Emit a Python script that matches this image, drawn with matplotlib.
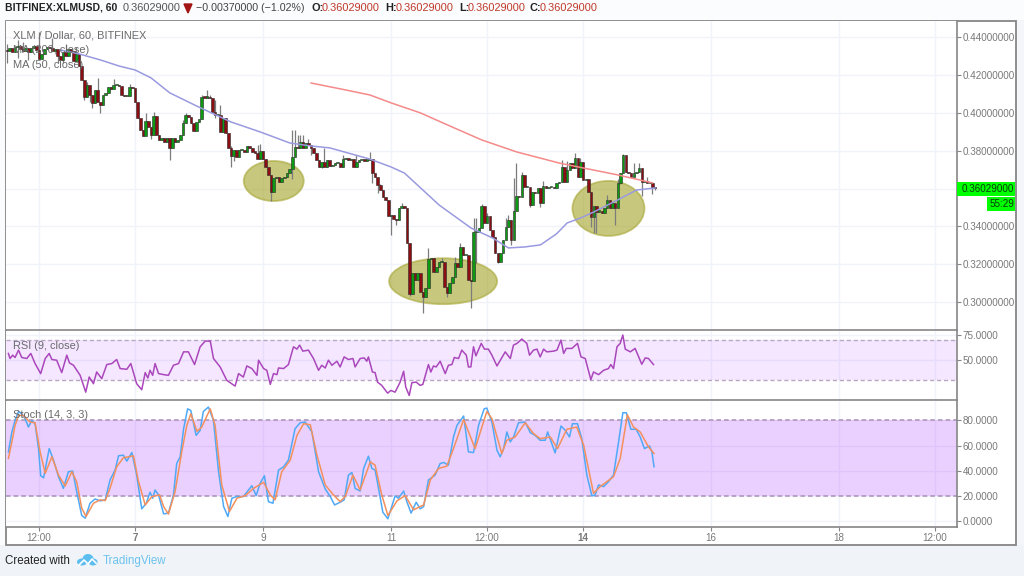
"""XLM / Dollar hourly chart with MA, RSI and Stochastic panels, TradingView look."""
import numpy as np
import matplotlib
matplotlib.use('Agg')
import matplotlib.pyplot as plt
from matplotlib.patches import Ellipse, Rectangle

plt.rcParams['font.family'] = ['Liberation Sans', 'DejaVu Sans']

# hourly closes, first bar is 48 hours before the "7" tick
closes = [
    .4325, .4345, .4320, .4350, .4355, .4340, .4325, .4345, .4320, .4345, .4355, .4335,
    .4285, .4310, .4340, .4350, .4345, .4325, .4340, .4300, .4280, .4320, .4300, .4340,
    .4325, .4275, .4310, .4250, .4174, .4086, .4148, .4095, .4051, .4121, .4060, .4042,
    .4095, .4104, .4135, .4125, .4148, .4148, .4142, .4095, .4090, .4090, .4135, .4130,
    .4060, .3971, .3910, .3878, .3959, .3927, .3883, .3986, .3883, .3857, .3866, .3848,
    .3866, .3813, .3866, .3848, .3857, .3883, .3949, .3989, .3977, .3949, .3904, .3954,
    .3966, .4086, .4081, .4081, .4077, .4007, .3989, .3989, .3901, .3971, .3892, .3813,
    .3772, .3804, .3769, .3804, .3804, .3795, .3825, .3813, .3795, .3790, .3755, .3800,
    .3755, .3716, .3672, .3584, .3654, .3663, .3636, .3654, .3659, .3681, .3702, .3769,
    .3822, .3813, .3848, .3813, .3839, .3830, .3813, .3786, .3751, .3712, .3742, .3712,
    .3751, .3719, .3725, .3733, .3733, .3712, .3755, .3760, .3751, .3755, .3712, .3742,
    .3751, .3751, .3748, .3751, .3755, .3681, .3659, .3619, .3592, .3557, .3539, .3455,
    .3460, .3437, .3434, .3495, .3510, .3495, .3310, .3042, .3152, .3116, .3155, .3055,
    .3025, .3072, .3226, .3231, .3160, .3187, .3213, .3213, .3081, .3046, .3099, .3134,
    .3208, .3183, .3289, .3249, .3249, .3116, .3113, .3372, .3372, .3390, .3510, .3416,
    .3455, .3381, .3346, .3257, .3213, .3257, .3328, .3395, .3434, .3328, .3483, .3561,
    .3557, .3672, .3610, .3610, .3513, .3584, .3575, .3601, .3522, .3614, .3601, .3610,
    .3610, .3601, .3628, .3636, .3716, .3636, .3698, .3733, .3707, .3760, .3663, .3742,
    .3645, .3649, .3584, .3451, .3508, .3478, .3483, .3469, .3495, .3539, .3495, .3522,
    .3495, .3628, .3681, .3777, .3689, .3681, .3663, .3681, .3689, .3707, .3636, .3642,
    .3628, .3631, .3610, .3603,
]
first_open = .4330

# the wicks that stick out, by bar number
upper_wicks = {
    0: .4365, 4: .4385, 6: .4375, 12: .4430, 17: .4395, 22: .4365, 26: .4350, 30: .4165,
    34: .4183, 40: .4178, 46: .4155, 52: .4001, 55: .4005, 57: .3885, 66: .3965, 67: .4001,
    73: .4095, 75: .4121, 76: .4095, 78: .4068, 80: .4042, 84: .3825, 94: .3830, 95: .3835,
    107: .3910, 108: .3910, 109: .3883, 110: .3883, 111: .3883, 113: .3860, 119: .3813,
    126: .3780, 131: .3775, 136: .3795, 139: .3631, 140: .3625, 148: .3522, 158: .3285,
    163: .3235, 168: .3240, 170: .3310, 175: .3443, 176: .3443, 178: .3520, 180: .3470,
    187: .3443, 188: .3460, 190: .3654, 191: .3733, 193: .3690, 196: .3560, 201: .3640,
    208: .3751, 210: .3745, 213: .3786, 215: .3760, 225: .3565, 229: .3650, 231: .3785,
    235: .3733, 237: .3733, 240: .3660,
}
lower_wicks = {
    0: .4262, 4: .4290, 8: .4280, 19: .4265, 21: .4265, 29: .4070, 31: .4060, 32: .4025,
    35: .4000, 52: .3915, 54: .3860, 61: .3751, 77: .3998, 78: .3975, 84: .3716, 85: .3745,
    99: .3536, 100: .3592, 107: .3650, 114: .3780, 118: .3710, 137: .3628, 139: .3575,
    144: .3354, 146: .3405, 151: .3030, 156: .2940, 165: .3028, 174: .2967, 176: .3205,
    184: .3205, 189: .3300, 196: .3500, 200: .3500, 219: .3398, 220: .3363, 221: .3363,
    228: .3407, 230: .3625, 238: .3561, 242: .3572, 243: .3590,
}

ma50_hours = [-28, -21, -13, -6, 0, 6, 13, 23, 36, 47, 58, 66, 73, 88, 96, 101, 114, 126,
              134, 140, 146, 152, 158, 162, 167, 172, 181, 188, 195]
ma50_values = [.4333, .4312, .4280, .4248, .4227, .4185, .4106, .4037, .3952, .3899, .3841,
               .3825, .3815, .3756, .3714, .3682, .3513, .3391, .3339, .3286, .3291, .3302,
               .3360, .3418, .3444, .3476, .3540, .3592, .3603]
ma200_hours = [66, 77, 88, 96, 107, 118, 130, 143, 159, 168, 181, 194]
ma200_values = [.4158, .4127, .4095, .4053, .4000, .3931, .3857, .3794, .3735, .3709, .3672, .3630]

rsi_hours = [
    -47.5, -46.9, -45.9, -45, -43.7, -42.5, -40.6, -39.1, -37.5, -35.4, -33.7, -32.2, -31.2,
    -29.4, -27.5, -25.6, -24.6, -23.1, -20.6, -18.5, -17.2, -15.6, -14.4, -12.5, -10.6, -8.7,
    -6.9, -5.6, -3.1, -1.6, .6, 2.5, 3.8, 4.8, 5.6, 6.6, 7.5, 8.8, 10.7, 12.5, 14.4, 16.3,
    18.2, 20, 22.3, 24.4, 26.3, 28.2, 29.4, 31.9, 34.4, 37.5, 38.8, 40.6, 41.9, 43.8, 45.7,
    46.3, 48.2, 49.4, 50.7, 51.9, 53.2, 53.8, 55.7, 57.5, 59.4, 60.7, 61.7, 62.9, 65, 66.9,
    68.8, 70, 71.3, 72.5, 73.8, 75.7, 76.9, 78.4, 80, 81.7, 82.5, 84.4, 85.9, 86.9, 87.5,
    89, 90, 90.9, 92.5, 94.7, 95.9, 97.5, 99.4, 100.7, 101.5, 102.8, 103.8, 105.4, 106.9,
    107.9, 110, 110.9, 111.9, 112.9, 114.4, 116.3, 117.5, 118.8, 119.7, 121.3, 122.5, 124.2,
    125, 125.9, 126.9, 127.8, 129.8, 131, 132.5, 133.8, 135.7, 138.8, 140.7, 141.9, 143.2,
    145, 146.9, 147.9, 149.4, 150.7, 151.9, 153.2, 154.4, 156.9, 158.2, 159.7, 160.7, 161.7,
    163.8, 165.9, 167.2, 168.8, 170.9, 171.9, 173.8, 175.7, 177.5, 178.4, 179.4, 180.7,
    181.9, 182.9, 183.8, 185.7, 187.5, 190, 191.3, 192.5, 194.4,
]
rsi_values = [
    56.7, 51.7, 55, 52.7, 60, 52.7, 51.7, 56.7, 46.7, 36.7, 51.7, 56.7, 50.7,
    50, 37.7, 55, 47.3, 45, 35, 18.3, 33.3, 26.7, 38.3, 31.7, 45.7, 46.7,
    50.7, 41.7, 41, 46.7, 26.7, 20.7, 37.7, 32.3, 40, 35, 46.7, 36.7, 35.7, 35, 45, 46.7,
    58.3, 58.3, 45.7, 63.3, 69, 69, 51.7, 43.3, 30, 24.3, 36.7, 33.3, 44.3, 41.7, 35,
    50, 41.7, 40, 26, 36.7, 35.7, 42.3, 41.7, 45.7, 63.3, 61, 65, 59, 60, 51.7,
    40, 45, 42.3, 50, 45, 49, 43.3, 53.3, 50.7, 51.7, 43.3, 51.7, 52.3, 49, 53.3,
    38.3, 37.7, 28.3, 25, 17.3, 20, 18.3, 28.3, 39, 23.3, 15, 27.7, 28.3, 25,
    26, 45.7, 38.3, 44.3, 43.3, 49, 36.7, 45, 45.7, 52.7, 51.7, 60, 55,
    43.3, 43.3, 63.3, 54.3, 66.7, 61, 61, 55, 44.3, 58.3, 51.7, 65, 66.7,
    71, 66.7, 55, 60, 61, 53.3, 61, 58.3, 59, 60, 70, 56.7, 61.7,
    61.7, 66.7, 53.3, 51.7, 30.7, 38.3, 35.7, 40, 41.7, 45.7, 41.7, 63.3,
    66.7, 75, 61, 58.3, 61.7, 46, 52.3, 51.7, 45.7,
]

stoch_k_hours = [
    -47.5, -46.2, -45, -43.7, -42.5, -41.2, -40, -38.7, -37.5, -36.2, -35.4, -34.3, -32.2,
    -30.6, -28.7, -26.9, -25, -23.4, -21.9, -20, -18.7, -16.9, -15, -13.1, -11.2, -9.4, -7.5,
    -6.2, -4.4, -3.1, -1.2, .6, 2.5, 4.2, 5.6, 6.6, 7.5, 8.8, 10.7, 12.5, 14.4, 15.6, 16.9,
    18.2, 19.7, 20.9, 22.9, 24.4, 25.6, 27.5, 29.4, 31.3, 33.2, 34.8, 36.3, 38.2, 40.6, 43.8,
    45.4, 46.9, 48.5, 50, 51.7, 53.8, 55.7, 57.5, 60, 61.9, 63.8, 66.3, 68.8, 71.3, 73.2, 74.8,
    76.9, 78.4, 80, 81.3, 82.5, 84.4, 85.7, 87.5, 88.8, 90, 91.3, 92.9, 94.8, 97.5, 98.8, 100.7,
    101.9, 103.5, 105.4, 106.9, 108.2, 110, 112.5, 114.4, 115.7, 117.5, 119.4, 120.7, 123.2,
    125, 126.9, 128.8, 130.9, 131.9, 133.8, 135.7, 136.9, 138.2, 139.4, 140.7, 141.9, 143.8,
    146.3, 148.2, 150, 151.9, 153.8, 154.7, 157.5, 159.7, 161.3, 162.9, 164, 165.9, 167.5,
    169.4, 171.3, 172.5, 173.8, 175.7, 177.5, 179.4, 181.3, 182.9, 184.2, 185.9, 187.9, 189.4,
    191, 192.9, 193.8, 194.6,
]
stoch_k_values = [
    55.1, 70.9, 80, 87.1, 85.3, 81.4, 74.8, 80, 77.4, 57.7, 36.2, 34.6, 57.7,
    48.6, 35.4, 26.2, 39.4, 39.9, 23.6, 4.7, 2.6, 14.4, 17.8, 16.3, 17.1, 32.8, 40.7,
    52, 52.5, 47.8, 54.6, 36.7, 10, 14.4, 23.1, 18.4, 24.9, 21, 6, 6.6, 21, 45.9, 51.2,
    73.5, 89.2, 87.9, 68.2, 72.2, 87.1, 90.6, 80, 39.4, 11.8, 3.9, 18.4, 19.7, 19.7, 28.3,
    20.5, 30.2, 36.2, 15.7, 14.4, 40.7, 43.3, 48.6, 73.5, 78.2, 78.7, 70.9, 39.4, 25.7, 19.7, 13.1,
    15.2, 17.1, 36.7, 38.8, 26.2, 24.1, 42, 51.7, 42, 40.7, 26.2, 7.3, 2.1, 20.2, 18.4, 24.1,
    15.7, 6.6, 15.2, 10, 11.8, 32.8, 36.7, 45.9, 46.7, 44.6, 66.9, 76.1, 83.5,
    55.1, 54.6, 76.1, 89.2, 89.8, 78.7, 56.4, 51.2, 57.7, 70.9, 63, 66.9, 78.2,
    78.7, 70.3, 68.2, 64.3, 64.3, 70.9, 54.3, 75.6, 72.2, 66.9, 77.4, 77.4, 65.6,
    36.7, 20.2, 21, 28.9, 27.6, 31.5, 36.7, 63, 86.1, 86.1, 73, 73, 66.9,
    57.7, 59.8, 55.1, 43.3,
]
stoch_d_hours = [
    -47.5, -46.2, -45, -43.7, -41.9, -39.4, -37.5, -35.6, -33.7, -31.2, -28.7, -26.2, -23.7,
    -21.9, -20, -18.4, -15.6, -13.1, -11.2, -9.4, -6.9, -4.4, -.6, 1.3, 3.8, 6.3, 9.2, 10.7,
    12.5, 15, 17.5, 19.4, 20.9, 23.2, 25, 28.2, 30, 32.5, 35.4, 38.2, 41.3, 44.4, 48.2, 50.7,
    52.5, 55, 58.2, 60.7, 63.2, 65.7, 68.2, 71.3, 74.4, 76.9, 78.8, 81.7, 84.4, 88.2, 90, 92.5,
    94.8, 98.2, 101.3, 104.4, 108.2, 110.7, 113.8, 116.9, 119.4, 123.2, 127.5, 131.9, 133.8,
    137.5, 139.4, 142.5, 146.3, 149.4, 151.9, 155.7, 158.4, 161.9, 165.6, 168.2, 171.9, 174.4,
    179.4, 181.9, 184.6, 186.9, 189.4, 192.5, 194.6,
]
stoch_d_values = [
    49.9, 63, 76.1, 84, 84, 78.7, 78.2, 55.1, 38.1, 51.2, 36.7, 28.1, 39.4,
    31.5, 10.5, 3.9, 14.4, 17.1, 16.5, 26.2, 43.3, 50.4, 52, 31.5, 13.1, 19.7, 21, 11.8,
    5.8, 23.6, 55.1, 76.1, 85.3, 71.4, 74.8, 89.2, 76.1, 28.9, 7.9, 18.4, 20.5, 26.2, 31, 21,
    17.1, 39.4, 48.6, 68.2, 77.4, 76.6, 52.5, 28.9, 21, 15.7, 19.7, 36.7, 24.9, 47.2, 44.6, 21,
    4.7, 16.3, 20.5, 9.2, 13.1, 32.8, 42, 43.8, 57.7, 80.8, 57.7, 87.1, 81.4,
    53.8, 64.3, 66.9, 78.2, 69.6, 65.6, 66.9, 57.7, 73, 74.8, 60.4, 22.3, 27.6,
    35.4, 49.9, 84.5, 74.8, 70.9, 59.1, 53.8,
]

price_ticks = [.30, .32, .34, .36, .38, .40, .42, .44]
rsi_ticks = [50, 75]
stoch_ticks = [0, 20, 40, 60, 80]
time_ticks = [-36, 0, 48, 96, 132, 168, 216, 264, 300]
time_labels = ['12:00', '7', '9', '11', '12:00', '14', '16', '18', '12:00']
bold_labels = ['7', '14']

# highlighted areas: centre hour, centre price, width in hours, height in price
circle_hours = [52, 115.5, 177.5]
circle_prices = [.3640, .3110, .3495]
circle_widths = [22.5, 40.5, 27]
circle_heights = [.0212, .0243, .0291]

W, H = 1024, 576
GRID = '#f0f3fa'
AXIS = '#868686'
TICK_TEXT = '#787878'


def panel(top, bottom):
    # axes placed by pixel rows of the picture
    a = fig.add_axes([6 / W, 1 - bottom / H, 951 / W, (bottom - top) / H])
    a.set_xlim(-48.4, 308.2)
    a.yaxis.tick_right()
    a.grid(True, color=GRID, linewidth=1)
    a.set_axisbelow(True)
    a.set_xticks(time_ticks)
    a.tick_params(axis='x', length=0, labelbottom=False)
    a.tick_params(axis='y', length=3, width=0.8, color=AXIS, labelcolor=TICK_TEXT,
                  labelsize=7.1, pad=1)
    for side in a.spines:
        a.spines[side].set_color(AXIS)
        a.spines[side].set_linewidth(1.2)
    a.spines['left'].set_visible(False)
    a.spines['top'].set_visible(False)
    return a


fig = plt.figure(figsize=(W / 100, H / 100), dpi=100, facecolor='#fbfcfd')

# page backdrop: pale footer and white chart frame
back = fig.add_axes([0, 0, 1, 1], zorder=-1)
back.set_xlim(0, W)
back.set_ylim(H, 0)
back.axis('off')
back.add_patch(Rectangle((0, 545), W, 31, facecolor='#f0f3f7', edgecolor='none'))
back.add_patch(Rectangle((1016, 20), 8, 525, facecolor='#f4f6f9', edgecolor='none'))
back.add_patch(Rectangle((6, 20.5), 1010, 524, facecolor='white', edgecolor=AXIS, linewidth=1.3))

ax = panel(21, 330)
ax_rsi = panel(331, 399.5)
ax_stoch = panel(400.5, 527)

# candles
hours = np.arange(len(closes)) - 48
closes = np.array(closes)
opens = np.r_[first_open, closes[:-1]]
tops = np.maximum(opens, closes)
bots = np.minimum(opens, closes)
highs = np.array([upper_wicks.get(i, tops[i]) for i in range(len(closes))])
lows = np.array([lower_wicks.get(i, bots[i]) for i in range(len(closes))])
colors = np.where(closes >= opens, '#0c9a12', '#8c0d12')

for cx, cy, cw, ch in zip(circle_hours, circle_prices, circle_widths, circle_heights):
    ax.add_patch(Ellipse((cx, cy), cw, ch, facecolor='#a6a52e', edgecolor='#a8a838',
                         alpha=0.62, linewidth=1.3, zorder=1.5))
ax.vlines(hours, lows, highs, color='#7c7c7c', linewidth=0.9, zorder=2)
ax.bar(hours, np.maximum(tops - bots, .0006), bottom=bots, width=0.95, color=colors,
       edgecolor='#2a2a2a', linewidth=0.4, zorder=3)
ax.plot(ma50_hours, ma50_values, color='#9a9ae0', linewidth=1.1, zorder=4)
ax.plot(ma200_hours, ma200_values, color='#f58a8a', linewidth=1.1, zorder=4)
ax.set_ylim(.2852, .4486)
ax.set_yticks(price_ticks)
# the .36 tick label is covered by the last price tag
ax.set_yticklabels(['' if v == .36 else f'{v:.8f}' for v in price_ticks])

# RSI
ax_rsi.axhspan(30, 70, facecolor='#9915ff', alpha=0.10, zorder=1)
ax_rsi.axhline(70, color='#b9a8c4', linewidth=1, linestyle=(0, (3, 2)), zorder=2)
ax_rsi.axhline(30, color='#b9a8c4', linewidth=1, linestyle=(0, (3, 2)), zorder=2)
ax_rsi.plot(rsi_hours, rsi_values, color='#ab47bc', linewidth=1.1, zorder=3)
ax_rsi.set_ylim(11, 79)
ax_rsi.set_yticks(rsi_ticks)
ax_rsi.set_yticklabels([f'{v:.4f}' for v in rsi_ticks])

# Stochastic
ax_stoch.axhspan(20, 80, facecolor='#9915ff', alpha=0.20, zorder=1)
ax_stoch.axhline(80, color='#a892b4', linewidth=1.1, linestyle=(0, (3, 2)), zorder=2)
ax_stoch.axhline(20, color='#a892b4', linewidth=1.1, linestyle=(0, (3, 2)), zorder=2)
ax_stoch.plot(stoch_k_hours, stoch_k_values, color='#4fa9f7', linewidth=1.1, zorder=3)
ax_stoch.plot(stoch_d_hours, stoch_d_values, color='#f4905c', linewidth=1.1, zorder=3)
ax_stoch.set_ylim(-4.4, 95.8)
ax_stoch.set_yticks(stoch_ticks)
ax_stoch.set_yticklabels([f'{v:.4f}' for v in stoch_ticks])
ax_stoch.set_xticks(time_ticks)
ax_stoch.set_xticklabels(time_labels, fontsize=7.1, color=TICK_TEXT)
ax_stoch.tick_params(axis='x', length=3, width=0.8, color=AXIS, labelbottom=True, pad=1.5)
for lab in ax_stoch.get_xticklabels():
    if lab.get_text() in bold_labels:
        lab.set_fontweight('bold')

# everything else sits on a transparent sheet in pixel coordinates
top = fig.add_axes([0, 0, 1, 1], zorder=10)
top.set_xlim(0, W)
top.set_ylim(H, 0)
top.axis('off')
top.patch.set_alpha(0)


def label(x, y, s, **kw):
    kw.setdefault('fontsize', 7.9)
    kw.setdefault('va', 'center')
    top.text(x, y, s, **kw)


label(5, 8, 'BITFINEX:XLMUSD, 60', fontweight='bold', color='#222222', fontsize=7.5)
label(123, 8, '0.36029000', color='#555555')
top.fill([184, 192, 188], [4, 4, 13], color='#a31515')
label(196, 8, '\u22120.00370000 (\u22121.02%)', color='#444444', fontsize=7.7)
for x_key, key, x_val in [(311, 'O:', 322), (385, 'H:', 396), (459, 'L:', 468), (530, 'C:', 540)]:
    label(x_key, 8, key, fontweight='bold', color='#222222')
    label(x_val, 8, '0.36029000', color='#c0392b')

label(13, 35, 'XLM / Dollar, 60, BITFINEX', color='#6a6a6a', fontsize=7.9)
label(13, 50, 'MA (200, close)', color='#6a6a6a', fontsize=7.9)
label(13, 65, 'MA (50, close)', color='#6a6a6a', fontsize=7.9)
label(13, 346, 'RSI (9, close)', color='#6a6a6a', fontsize=7.9)
label(13, 415, 'Stoch (14, 3, 3)', color='#6a6a6a', fontsize=7.9)

# last price and countdown tags
top.add_patch(Rectangle((957, 182), 58, 14, facecolor='#00ff00', edgecolor='none'))
top.add_patch(Rectangle((987, 197), 28, 14, facecolor='#00ff00', edgecolor='none'))
label(962, 189, '0.36029000', color='#0a3a0a', fontsize=7.1)
label(990, 204, '55:29', color='#0a3a0a', fontsize=7.1)

# footer
label(5, 561, 'Created with', color='#222222', fontsize=8.3)
for ex, ey, ew, eh in [(82, 562, 10, 7), (88, 559, 11, 10), (93, 562, 9, 7)]:
    top.add_patch(Ellipse((ex, ey), ew, eh, facecolor='#5cbdf0', edgecolor='none'))
top.plot([79, 84, 88, 92, 96], [565, 560, 564, 559, 563], color='white', linewidth=1.2)
label(103, 561, 'TradingView', color='#6cc3ee', fontsize=8.3)

plt.savefig('out.png', dpi=100, facecolor=fig.get_facecolor())
plt.close()
